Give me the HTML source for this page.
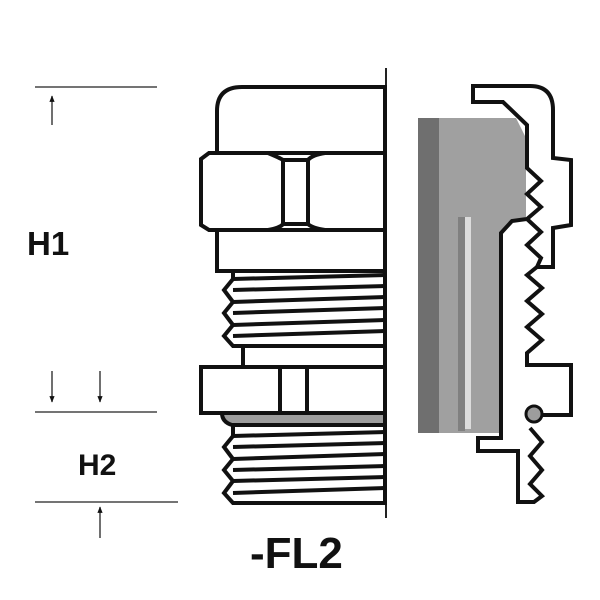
<!DOCTYPE html>
<html><head><style>html,body{margin:0;padding:0;background:#fff}svg{display:block}</style></head>
<body>
<svg width="600" height="600" viewBox="0 0 600 600" xmlns="http://www.w3.org/2000/svg">
<defs><marker id="ar" viewBox="0 0 10 10" refX="9" refY="5" markerWidth="5" markerHeight="7" orient="auto"><path d="M0,1 L10,5 L0,9 z" fill="#111"/></marker></defs>
<g stroke="#222" stroke-width="1.3">
<line x1="35" y1="87" x2="157" y2="87"/>
<line x1="35" y1="412" x2="157" y2="412"/>
<line x1="35" y1="502" x2="178" y2="502"/>
<line x1="52" y1="125" x2="52" y2="96" marker-end="url(#ar)"/>
<line x1="52" y1="371" x2="52" y2="402" marker-end="url(#ar)"/>
<line x1="100" y1="371" x2="100" y2="402" marker-end="url(#ar)"/>
<line x1="100" y1="538" x2="100" y2="507" marker-end="url(#ar)"/>
<line x1="386" y1="68" x2="386" y2="518" stroke-width="2"/>
</g>
<g font-family="Liberation Sans, sans-serif" font-weight="bold" fill="#111">
<text x="27" y="255" font-size="33">H1</text>
<text x="78" y="475" font-size="30">H2</text>
<text x="250" y="568" font-size="44">-FL2</text>
</g>
<g stroke="#111" stroke-width="4" fill="#fff" stroke-linejoin="miter">
<path d="M217,153 L217,111 Q217,87 242,87 L385,87 L385,153 Z"/>
<rect x="217" y="230" width="168" height="41"/>
<path d="M233,271 L385,271 L385,346 L233,346 L224,336 L233,325 L224,313 L233,302 L224,290 L233,279 Z"/>
<line x1="233" y1="279" x2="385" y2="275"/><line x1="233" y1="290" x2="385" y2="286"/>
<line x1="233" y1="302" x2="385" y2="297"/><line x1="233" y1="313" x2="385" y2="308"/>
<line x1="233" y1="325" x2="385" y2="320"/><line x1="233" y1="336" x2="385" y2="331"/>
<rect x="243" y="346" width="142" height="21"/>
<path d="M209,153 L268,153 Q280,158 283,160 L308,160 Q312,155 325,153 L385,153 L385,230 L325,230 Q312,228 308,224 L283,224 Q280,228 268,230 L209,230 L201,225 L201,159 Z"/>
<line x1="283" y1="160" x2="283" y2="224"/><line x1="308" y1="160" x2="308" y2="224"/>
<rect x="201" y="367" width="184" height="46"/>
<line x1="280" y1="367" x2="280" y2="413"/><line x1="307" y1="367" x2="307" y2="413"/>
<path d="M222,413 L385,413 L385,425 L232,425 Q222,422 222,413 Z" fill="#9d9d9d"/>
<path d="M233,425 L385,425 L385,503 L233,503 L224,493 L233,481 L224,470 L233,459 L224,447 L233,436 Z"/>
<line x1="233" y1="436" x2="385" y2="432"/><line x1="233" y1="447" x2="385" y2="443"/>
<line x1="233" y1="459" x2="385" y2="454"/><line x1="233" y1="470" x2="385" y2="466"/>
<line x1="233" y1="481" x2="385" y2="477"/><line x1="233" y1="493" x2="385" y2="488"/>
</g>
<path d="M418,118 L516,118 L526,138 L526,217 L512,222 L500,234 L500,433 L418,433 Z" fill="#a0a0a0"/>
<rect x="418" y="118" width="21" height="315" fill="#6f6f6f"/>
<rect x="458" y="217" width="7" height="214" fill="#808080"/>
<rect x="465" y="217" width="6" height="212" fill="#dcdcdc"/>
<g fill="none" stroke="#111" stroke-width="4" stroke-linejoin="miter">
<path d="M473,104 L473,86 L530,86 Q553,86 553,110 L553,158 L571,160 L571,225 L553,228 L553,267 L537,267 L527,275 L542,288 L527,301 L542,314 L527,327 L542,340 L527,353 L527,365 L571,365 L571,415 L542,415"/>
<path d="M530,428 L542,442 L530,456 L542,470 L530,484 L542,496 L534,502 L518,502 L518,451 L478,451 L478,438 L501,438 L501,233 L512,221 L527,219 L541,207 L527,194 L541,181 L527,168 L527,125 L503,102 L471,102"/>
<path d="M527,219 L541,232 L527,245 L541,258 L537,267"/>
</g>
<circle cx="534" cy="414" r="8" fill="#9d9d9d" stroke="#111" stroke-width="3"/>
</svg>
</body></html>
